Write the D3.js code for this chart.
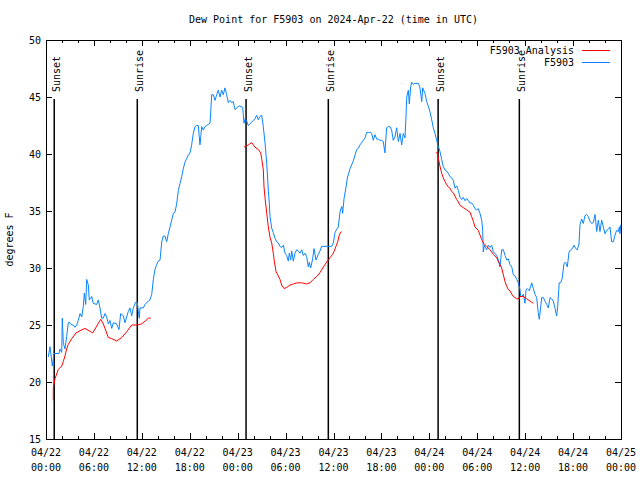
<!DOCTYPE html>
<html>
<head>
<meta charset="utf-8">
<script src="https://cdn.jsdelivr.net/npm/d3@7"></script>
<style>
  html, body { margin: 0; padding: 0; background: #fff; }
  svg { display: block; font-family: "DejaVu Sans Mono", "Liberation Mono", monospace; }
</style>
</head>
<body>
<svg id="chart" width="640" height="480"></svg>
<script>
// ---- data (hours since 2024-04-22 00:00 UTC, degrees F) ----
const titleText = "Dew Point for F5903 on 2024-Apr-22 (time in UTC)";
const yLabel = "degrees F";
const seriesNames = ["F5903 Analysis", "F5903"];

const xTickHours = [0, 6, 12, 18, 24, 30, 36, 42, 48, 54, 60, 66, 72];
const xTickDates = ["04/22","04/22","04/22","04/22","04/23","04/23","04/23","04/23","04/24","04/24","04/24","04/24","04/25"];
const xTickTimes = ["00:00","06:00","12:00","18:00","00:00","06:00","12:00","18:00","00:00","06:00","12:00","18:00","00:00"];
const yTicks = [15, 20, 25, 30, 35, 40, 45, 50];

const sunHours = [1.03, 11.43, 25.05, 35.35, 49.1, 59.27];
const sunLabels = ["Sunset", "Sunrise", "Sunset", "Sunrise", "Sunset", "Sunrise"];

const obsHours = [0.29,0.50,0.79,1.00,1.63,1.75,1.97,2.04,2.17,2.38,2.59,2.79,3.01,3.22,3.42,3.63,3.84,4.04,4.26,4.47,4.67,4.80,4.97,5.10,5.30,5.42,5.72,5.92,6.35,6.55,6.76,6.97,7.17,7.39,7.60,7.80,8.01,8.23,8.43,8.85,9.14,9.35,9.68,9.89,10.10,10.31,10.52,10.73,10.93,11.23,11.43,11.56,11.68,11.77,12.18,12.40,12.81,13.02,13.24,13.44,13.65,13.86,14.06,14.28,14.49,14.69,14.90,15.11,15.31,15.53,15.74,15.94,16.15,16.36,16.57,16.78,16.99,17.19,17.41,17.62,17.82,18.03,18.24,18.44,18.66,18.87,19.07,19.28,19.50,19.70,19.91,20.12,20.32,20.54,20.75,20.95,21.16,21.37,21.58,21.79,22.00,22.20,22.41,22.62,22.83,23.04,23.25,23.45,23.67,23.88,24.08,24.29,24.63,24.79,24.92,25.13,25.33,25.76,26.17,26.38,26.58,26.80,27.01,27.21,27.42,27.64,27.84,27.96,28.05,28.26,28.46,28.68,28.89,29.09,29.30,29.51,29.72,29.93,30.14,30.34,30.47,30.64,30.77,30.97,31.18,31.39,31.59,31.81,32.02,32.22,32.43,32.64,32.85,32.97,33.14,33.39,33.56,33.81,34.10,34.31,34.52,35.22,35.78,35.98,36.19,36.40,36.60,36.81,37.03,37.15,37.32,37.57,37.73,38.07,38.48,38.91,39.11,39.32,39.73,39.94,40.16,40.36,40.57,40.78,40.98,41.19,41.41,41.61,41.82,42.03,42.23,42.44,42.65,42.86,43.07,43.28,43.48,43.70,43.91,44.12,44.33,44.54,44.74,44.95,45.08,45.17,45.37,45.49,45.67,45.79,46.00,46.21,46.62,46.83,47.05,47.17,47.46,47.67,47.87,48.08,48.30,48.50,48.71,48.92,49.05,49.21,49.34,49.55,49.75,49.96,50.18,50.38,50.59,50.80,51.00,51.22,51.43,51.63,51.84,52.05,52.25,52.47,52.68,52.88,53.09,53.30,53.51,53.72,53.93,54.13,54.34,54.56,54.68,54.76,54.88,55.18,55.39,55.60,55.81,56.01,56.22,56.43,56.64,56.85,57.06,57.27,57.48,57.69,57.89,58.10,58.32,58.52,58.73,58.94,59.14,59.35,59.44,59.61,59.77,59.98,60.11,60.27,60.52,60.82,61.02,61.23,61.44,61.64,61.77,61.95,62.07,62.28,62.48,62.70,62.90,63.11,63.32,63.52,63.73,63.94,64.06,64.26,64.44,64.64,64.86,65.07,65.28,65.49,65.70,65.91,66.12,66.33,66.53,66.74,66.87,67.08,67.28,67.49,67.70,67.91,68.12,68.33,68.54,68.75,68.96,69.16,69.37,69.58,69.79,70.00,70.21,70.41,70.62,70.83,71.04,71.25,71.46,71.67,71.79,71.88,71.96];
const obsValues = [22.2,23.1,21.4,22.5,22.5,22.9,22.6,25.6,23.4,22.9,24.0,25.2,25.2,25.0,25.0,24.8,25.0,25.4,26.0,25.7,26.6,27.8,26.8,29.0,28.5,27.2,27.5,26.9,26.8,27.2,26.5,25.6,25.6,26.0,25.7,25.1,25.4,24.7,25.2,25.1,24.6,26.0,25.8,25.2,25.7,26.2,26.5,25.8,26.5,27.0,27.0,26.2,25.6,26.5,26.5,26.8,27.1,27.2,27.7,29.0,29.9,30.3,30.6,30.7,32.3,32.8,32.8,32.3,33.0,33.6,34.2,34.8,34.9,35.6,36.8,37.4,38.0,38.7,39.3,39.6,39.9,40.1,40.8,41.8,42.4,42.5,42.5,40.8,42.4,42.1,42.4,42.5,42.6,42.7,45.2,45.2,44.7,45.2,45.6,45.0,45.6,45.2,45.8,45.2,44.5,44.7,44.5,44.6,43.9,44.0,44.2,44.2,44.1,42.7,43.1,42.9,42.5,42.8,43.1,43.4,43.0,43.3,43.4,42.4,41.0,39.2,36.8,35.7,34.5,33.5,33.1,32.6,32.3,32.2,31.9,31.8,32.0,31.3,31.1,30.6,31.3,30.7,31.5,30.6,31.3,31.6,31.5,31.3,31.6,31.1,31.3,31.0,30.1,30.5,30.0,30.8,31.7,30.7,31.2,31.5,31.9,31.9,31.9,32.2,33.1,33.4,33.6,34.9,35.4,34.8,36.1,37.1,37.9,38.7,39.4,40.4,40.5,40.8,41.2,41.4,41.9,41.9,41.9,41.8,41.2,41.7,41.3,41.3,41.2,41.2,41.1,40.1,42.3,42.4,42.4,42.1,41.2,41.5,42.3,41.1,41.8,40.8,41.8,41.4,43.3,45.0,45.6,44.4,45.9,46.3,46.1,46.2,46.2,45.8,44.6,45.8,45.3,44.6,44.2,43.7,43.0,42.3,41.8,41.2,40.8,40.5,40.2,39.5,38.9,38.6,38.5,38.3,38.0,37.9,37.7,37.0,37.2,36.8,36.2,36.0,36.2,35.9,36.1,35.9,35.7,35.7,35.5,35.2,35.1,35.2,34.8,34.2,33.3,31.4,32.0,31.6,32.0,31.8,32.0,31.4,31.3,31.1,30.7,30.1,31.6,31.6,31.1,30.7,30.8,30.3,30.1,29.4,29.3,29.0,28.7,28.1,27.5,27.5,27.7,26.9,28.1,28.2,28.0,28.7,28.2,27.7,27.4,26.1,25.5,26.6,27.4,27.4,27.1,26.8,26.5,27.4,27.3,27.1,26.5,25.8,26.5,28.7,28.7,29.1,30.4,30.5,30.1,31.4,31.6,31.7,32.0,31.7,31.6,32.1,33.8,34.3,33.9,34.6,34.7,34.5,34.1,33.9,34.0,34.7,33.2,34.2,33.2,34.2,33.6,33.0,33.3,33.4,33.6,32.3,32.3,32.9,33.3,33.2,33.6,33.0,33.8];

const anaHours1 = [0.91,0.92,1.13,1.54,1.97,2.17,2.38,2.59,2.79,3.22,3.76,4.26,4.88,5.38,5.85,6.35,6.85,7.18,7.80,8.23,8.85,9.48,10.10,10.73,11.43,11.98,12.52,12.81,13.11];
const anaValues1 = [18.4,19.5,20.3,21.1,21.4,21.8,22.3,22.9,23.3,23.8,24.3,24.5,24.7,24.5,24.3,24.9,25.5,25.1,23.9,23.8,23.6,23.9,24.4,25.0,25.0,25.1,25.4,25.6,25.6];
const anaHours2 = [24.79,25.33,25.76,26.17,26.58,26.88,27.01,27.21,27.30,27.42,27.64,27.84,28.05,28.26,28.46,28.59,28.80,29.09,29.30,29.51,29.80,30.14,30.55,30.97,31.39,32.02,32.64,33.06,33.47,33.97,34.31,34.65,34.94,35.22,35.56,35.90,36.10,36.31,36.53,36.73,36.98];
const anaValues2 = [40.6,40.8,41.0,40.6,40.4,40.1,39.6,38.6,37.1,36.2,34.8,33.6,32.7,32.2,31.3,30.6,29.7,29.3,29.0,28.5,28.2,28.3,28.5,28.6,28.7,28.7,28.6,28.7,29.0,29.3,29.6,30.0,30.3,30.6,30.9,31.2,31.5,31.9,32.3,32.9,33.2];
const anaHours3 = [48.80,49.05,49.12,49.34,49.55,49.75,49.96,50.18,50.38,50.59,50.80,51.00,51.22,51.43,51.63,51.84,52.25,52.68,53.09,53.30,53.51,53.72,54.13,54.34,54.56,54.76,55.18,55.60,56.01,56.43,56.85,57.06,57.27,57.48,57.69,57.89,58.10,58.32,58.52,58.73,58.94,59.14,59.35,59.77,60.19,60.61,60.82,61.02];
const anaValues3 = [40.1,40.1,39.6,38.9,38.3,37.9,37.6,37.3,37.1,37.0,36.7,36.6,36.3,36.0,35.8,35.5,35.3,35.1,34.9,34.5,34.1,33.6,33.3,32.9,32.5,32.2,31.9,31.6,31.2,30.9,30.3,30.0,29.4,28.8,28.4,28.1,28.0,27.7,27.5,27.4,27.3,27.3,27.5,27.5,27.3,27.1,27.0,26.9];

// ---- layout ----
const plot = { left: 46, right: 621, top: 40, bottom: 439 };
const colors = { analysis: "#ff0000", obs: "#0a84ff", axis: "#000" };

const svg = d3.select("#chart");
const x = d3.scaleLinear().domain([0, 72]).range([plot.left, plot.right]);
const y = d3.scaleLinear().domain([15, 50]).range([plot.bottom, plot.top]);

// title
svg.append("text").attr("x", (plot.left + plot.right) / 2).attr("y", 23)
  .attr("text-anchor", "middle").attr("font-size", 10).text(titleText);

// y-axis label
svg.append("text").attr("transform", `translate(13,${(plot.top + plot.bottom) / 2}) rotate(-90)`)
  .attr("text-anchor", "middle").attr("font-size", 10).text(yLabel);

// ticks (inward, gnuplot-style, mirrored)
const minorHours = d3.range(0, 73, 2);
const gT = svg.append("g").attr("stroke", colors.axis).attr("stroke-width", 1).attr("shape-rendering", "crispEdges");
minorHours.forEach(h => {
  const len = (h % 6 === 0) ? 6 : 3;
  const xx = Math.round(x(h)) + 0.5;
  gT.append("line").attr("x1", xx).attr("x2", xx).attr("y1", plot.bottom).attr("y2", plot.bottom - len);
  gT.append("line").attr("x1", xx).attr("x2", xx).attr("y1", plot.top).attr("y2", plot.top + len);
});
yTicks.forEach(v => {
  const yy = Math.round(y(v)) + 0.5;
  gT.append("line").attr("x1", plot.left).attr("x2", plot.left + 6).attr("y1", yy).attr("y2", yy);
  gT.append("line").attr("x1", plot.right).attr("x2", plot.right - 6).attr("y1", yy).attr("y2", yy);
});

// y tick labels
svg.append("g").selectAll("text").data(yTicks).join("text")
  .attr("x", plot.left - 5).attr("y", d => y(d) + 4)
  .attr("text-anchor", "end").attr("font-size", 10).text(d => d);

// x tick labels
const xl = svg.append("g").selectAll("text").data(xTickHours).join("text")
  .attr("text-anchor", "middle").attr("font-size", 10);
xl.append("tspan").attr("x", d => x(d)).attr("y", 456).text((d, i) => xTickDates[i]);
xl.append("tspan").attr("x", d => x(d)).attr("y", 471).text((d, i) => xTickTimes[i]);

// sun lines
const sunG = svg.append("g");
sunHours.forEach((h, i) => {
  const xx = x(h);
  sunG.append("line").attr("x1", xx).attr("x2", xx).attr("y1", 99).attr("y2", plot.bottom)
    .attr("stroke", "#000").attr("stroke-width", 1.5);
  sunG.append("text").attr("transform", `translate(${xx + 5.5},92) rotate(-90)`)
    .attr("text-anchor", "start").attr("font-size", 10).text(sunLabels[i]);
});

// data lines
const line = d3.line().x(d => x(d[0])).y(d => y(d[1]));
const obsData = obsHours.map((h, i) => [h, obsValues[i]]);
svg.append("path").datum(obsData).attr("d", line)
  .attr("fill", "none").attr("stroke", colors.obs).attr("stroke-width", 1);

[[anaHours1, anaValues1], [anaHours2, anaValues2], [anaHours3, anaValues3]].forEach(([hs, vs]) => {
  svg.append("path").datum(hs.map((h, i) => [h, vs[i]])).attr("d", line)
    .attr("fill", "none").attr("stroke", colors.analysis).attr("stroke-width", 1);
});

// border
svg.append("rect").attr("x", plot.left + 0.5).attr("y", plot.top + 0.5)
  .attr("width", plot.right - plot.left).attr("height", plot.bottom - plot.top)
  .attr("fill", "none").attr("stroke", "#000").attr("stroke-width", 1).attr("shape-rendering", "crispEdges");

// legend
const legend = svg.append("g");
[[seriesNames[0], colors.analysis, 50], [seriesNames[1], colors.obs, 62]].forEach(([name, c, yy]) => {
  legend.append("text").attr("x", 574).attr("y", yy + 3.5).attr("text-anchor", "end")
    .attr("font-size", 10).text(name);
  legend.append("line").attr("x1", 582).attr("x2", 610).attr("y1", yy + 0.5).attr("y2", yy + 0.5)
    .attr("stroke", c).attr("stroke-width", 1);
});
</script>
</body>
</html>
